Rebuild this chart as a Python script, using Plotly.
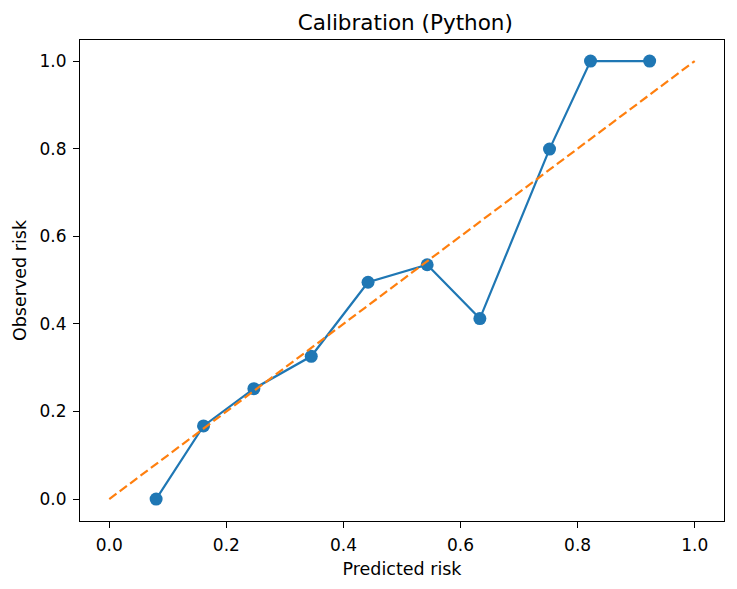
import plotly.graph_objects as go

# binned calibration points
predicted = [0.080, 0.161, 0.247, 0.345, 0.442, 0.543, 0.633, 0.752, 0.822, 0.923]
observed = [0.000, 0.167, 0.252, 0.326, 0.495, 0.535, 0.412, 0.799, 1.000, 1.000]

# perfect calibration reference line
ideal = [0.0, 1.0]

font = dict(family="DejaVu Sans", size=17, color="black")
label_font = dict(family="DejaVu Sans", size=17.5, color="black")

fig = go.Figure()

fig.add_trace(go.Scatter(
    x=predicted, y=observed,
    mode="lines+markers",
    line=dict(color="#1f77b4", width=2.2),
    marker=dict(color="#1f77b4", size=13),
    showlegend=False,
))

fig.add_trace(go.Scatter(
    x=ideal, y=ideal,
    mode="lines",
    line=dict(color="#ff7f0e", width=2.2, dash="9px,4px"),
    showlegend=False,
))

axis_style = dict(
    showgrid=False, zeroline=False,
    showline=True, mirror=True, linecolor="black", linewidth=1,
    ticks="outside", ticklen=6, tickwidth=1, tickcolor="black",
    tickformat=".1f", dtick=0.2, tickfont=font, ticklabelstandoff=3,
)

# page body has an 8px margin, so the figure is sized to the visible area
fig.update_layout(
    width=729, height=581,
    margin=dict(l=72, r=13, t=32, b=68),
    paper_bgcolor="white", plot_bgcolor="white",
    font=font,
    title=dict(text="Calibration (Python)", x=0.545, xanchor="center",
               y=0.975, yanchor="middle", font=dict(size=21.5)),
    xaxis=dict(axis_style, range=[-0.05, 1.05],
               title=dict(text="Predicted risk", standoff=8, font=label_font)),
    yaxis=dict(axis_style, range=[-0.05, 1.048],
               title=dict(text="Observed risk", standoff=8, font=label_font)),
)

fig.write_html("out.html")
